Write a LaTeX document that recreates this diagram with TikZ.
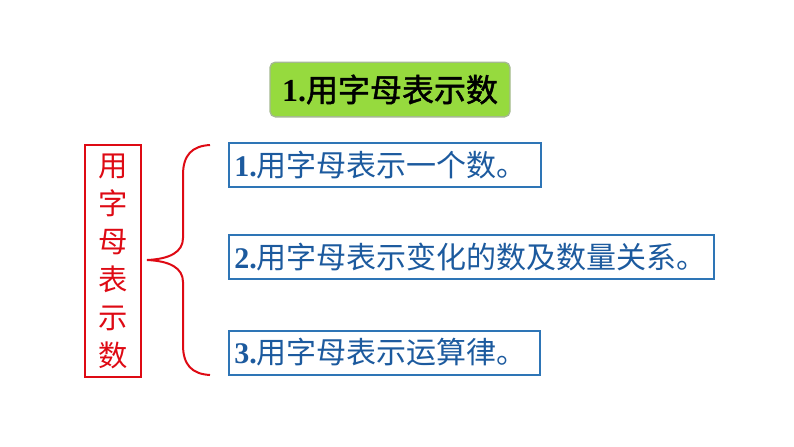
\documentclass[tikz,border=0pt]{standalone}
\usepackage{fontspec}
\newfontfamily\cjk{Noto Sans CJK SC}
\newfontfamily\cjkb[FakeBold=1.5]{Noto Sans CJK SC}
\newfontfamily\numf{Liberation Serif}
\definecolor{titlegreen}{RGB}{150,218,62}
\definecolor{titleline}{RGB}{165,185,145}
\definecolor{boxblue}{RGB}{46,117,182}
\definecolor{textblue}{RGB}{28,90,158}
\definecolor{mainred}{RGB}{222,10,20}
\newcommand{\nr}[1]{{\numf\bfseries #1}}
\begin{document}
\begin{tikzpicture}[x=0.75pt,y=-0.75pt,semithick,
	title/.style={draw=titleline,fill=titlegreen,rounded corners=4pt,line width=1pt,minimum width=180pt,minimum height=41pt,font=\fontsize{24}{28}\cjkb},
	side/.style={draw=mainred,line width=1.5pt,text=mainred,minimum width=42pt,minimum height=174pt,align=center,font=\fontsize{22}{28.5}\selectfont\cjk},
	item/.style={draw=boxblue,line width=1.5pt,anchor=west,minimum height=33pt,inner xsep=4pt,text=textblue,align=left,font=\fontsize{22.5}{26}\selectfont\cjk}]
	\useasboundingbox (0,0) rectangle (794,447);
	\node[title] (t) at (390,89.5)	{\nr{1.}用字母表示数};
	\node[side] (s) at (113,261)	{用\\字\\母\\表\\示\\数};
	\node[item,text width=226pt] (b1) at (228,165)	{\nr{1.}用字母表示一个数。};
	\node[item,text width=356pt] (b2) at (228,257)	{\nr{2.}用字母表示变化的数及数量关系。};
	\node[item,text width=225pt] (b3) at (228,352.5)	{\nr{3.}用字母表示运算律。};
	% brace
	\draw[mainred,line width=1.5pt] (210,145) .. controls (192,146) and (183,155) .. (183,175) -- (183,238)
		.. controls (183,252) and (170,259) .. (147,260) .. controls (170,261) and (183,268) .. (183,282)
		-- (183,345) .. controls (183,365) and (192,374) .. (210,375);
\end{tikzpicture}
\end{document}
